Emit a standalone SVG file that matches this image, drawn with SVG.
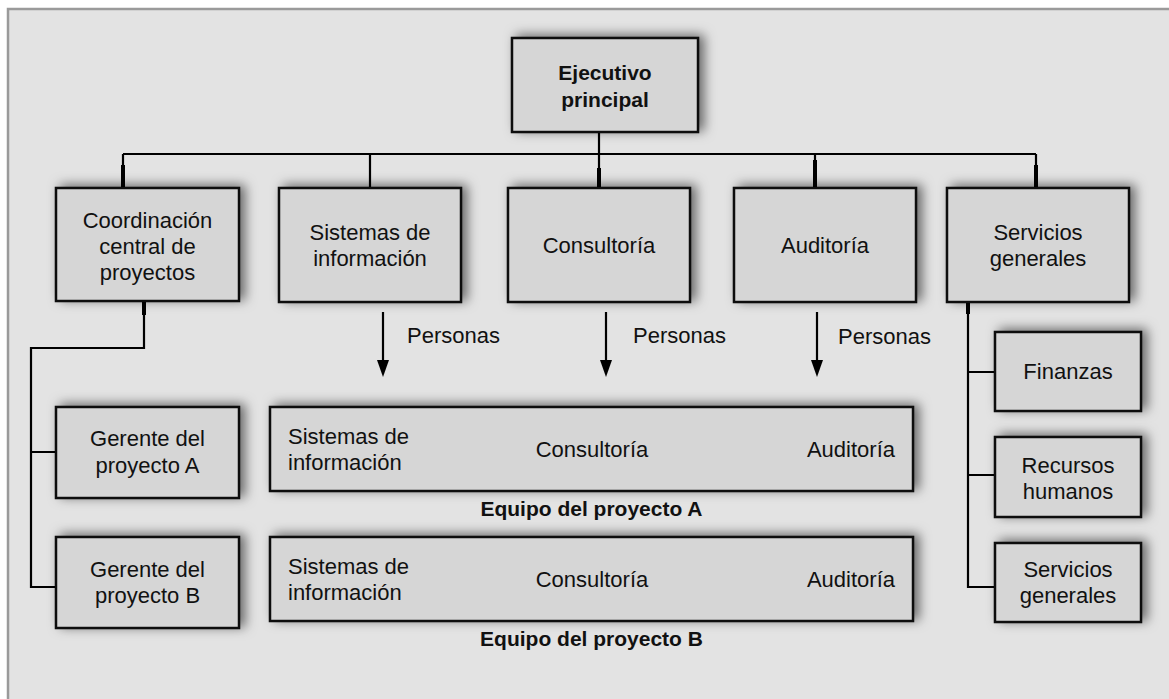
<svg xmlns="http://www.w3.org/2000/svg" width="1169" height="699" viewBox="0 0 1169 699">
<style>
.box{fill:#d6d6d6;stroke:#111;stroke-width:2.5;filter:url(#sh)}
.t{font-family:"Liberation Sans",Arial,sans-serif;font-size:22px;fill:#111;text-anchor:middle}
.l{text-anchor:start}
.r{text-anchor:end}
.b{font-weight:bold;font-size:21px}
.c{fill:none;stroke:#000;stroke-width:2.2}
.stub{fill:none;stroke:#000;stroke-width:4}
.ah{fill:#000}
</style>
<defs>
<filter id="sh" x="-20%" y="-40%" width="145%" height="170%">
<feDropShadow dx="5" dy="-2" stdDeviation="6" flood-color="#000" flood-opacity="0.55"/>
</filter>
</defs>
<rect x="0" y="0" width="1169" height="699" fill="#fff"/>
<rect x="8" y="9" width="1170" height="700" fill="#e3e3e3" stroke="#9a9a9a" stroke-width="2.5"/>

<g id="connectors">
<path class="c" d="M599,132 V188"/>
<path class="c" d="M123,154 H1036"/>
<path class="c" d="M123,154 V188 M370,154 V188 M815,154 V188 M1036,154 V188"/>
<path class="stub" d="M123,165 V188 M1036,165 V188 M599,168 V188 M815,160 V188"/>
<path class="c" d="M144,301 V348 H31 V587 H56 M31,452 H56"/>
<path class="stub" d="M144,301 V315"/>
<path class="c" d="M968,302 V587 H995 M968,372 H995 M968,475 H995"/>
<path class="stub" d="M968,302 V314"/>
<path class="c" d="M383,312 V362"/>
<polygon class="ah" points="377,360 389,360 383,377"/>
<path class="c" d="M606,312 V362"/>
<polygon class="ah" points="600,360 612,360 606,377"/>
<path class="c" d="M817,312 V362"/>
<polygon class="ah" points="811,360 823,360 817,377"/>
<text class="t l" x="407" y="343">Personas</text>
<text class="t l" x="633" y="343">Personas</text>
<text class="t l" x="838" y="344">Personas</text>
</g>

<g id="ejecutivo">
<rect class="box" x="512" y="38" width="186" height="94"/>
<text class="t b" x="605" y="80">Ejecutivo</text>
<text class="t b" x="605" y="107">principal</text>
</g>

<g id="coordinacion">
<rect class="box" x="56" y="188" width="183" height="113"/>
<text class="t" x="147.5" y="228">Coordinación</text>
<text class="t" x="147.5" y="254">central de</text>
<text class="t" x="147.5" y="280">proyectos</text>
</g>

<g id="sistemas">
<rect class="box" x="279" y="188" width="182" height="114"/>
<text class="t" x="370" y="240">Sistemas de</text>
<text class="t" x="370" y="266">información</text>
</g>

<g id="consultoria">
<rect class="box" x="508" y="188" width="182" height="114"/>
<text class="t" x="599" y="253">Consultoría</text>
</g>

<g id="auditoria">
<rect class="box" x="734" y="188" width="182" height="114"/>
<text class="t" x="825" y="253">Auditoría</text>
</g>

<g id="servicios">
<rect class="box" x="947" y="188" width="182" height="114"/>
<text class="t" x="1038" y="240">Servicios</text>
<text class="t" x="1038" y="266">generales</text>
</g>

<g id="gerenteA">
<rect class="box" x="56" y="407" width="183" height="91"/>
<text class="t" x="147.5" y="446">Gerente del</text>
<text class="t" x="147.5" y="473">proyecto A</text>
</g>

<g id="gerenteB">
<rect class="box" x="56" y="537" width="183" height="91"/>
<text class="t" x="147.5" y="577">Gerente del</text>
<text class="t" x="147.5" y="603">proyecto B</text>
</g>

<g id="equipoA">
<rect class="box" x="270" y="407" width="643" height="84"/>
<text class="t l" x="288" y="444">Sistemas de</text>
<text class="t l" x="288" y="470">información</text>
<text class="t" x="592" y="457">Consultoría</text>
<text class="t r" x="895" y="457">Auditoría</text>
<text class="t b" x="591.5" y="516">Equipo del proyecto A</text>
</g>

<g id="equipoB">
<rect class="box" x="270" y="537" width="643" height="84"/>
<text class="t l" x="288" y="574">Sistemas de</text>
<text class="t l" x="288" y="600">información</text>
<text class="t" x="592" y="587">Consultoría</text>
<text class="t r" x="895" y="587">Auditoría</text>
<text class="t b" x="591.5" y="646">Equipo del proyecto B</text>
</g>

<g id="finanzas">
<rect class="box" x="995" y="332" width="146" height="79"/>
<text class="t" x="1068" y="379">Finanzas</text>
</g>

<g id="recursos">
<rect class="box" x="995" y="437" width="146" height="80"/>
<text class="t" x="1068" y="473">Recursos</text>
<text class="t" x="1068" y="499">humanos</text>
</g>

<g id="servicios2">
<rect class="box" x="995" y="543" width="146" height="79"/>
<text class="t" x="1068" y="577">Servicios</text>
<text class="t" x="1068" y="603">generales</text>
</g>
</svg>
